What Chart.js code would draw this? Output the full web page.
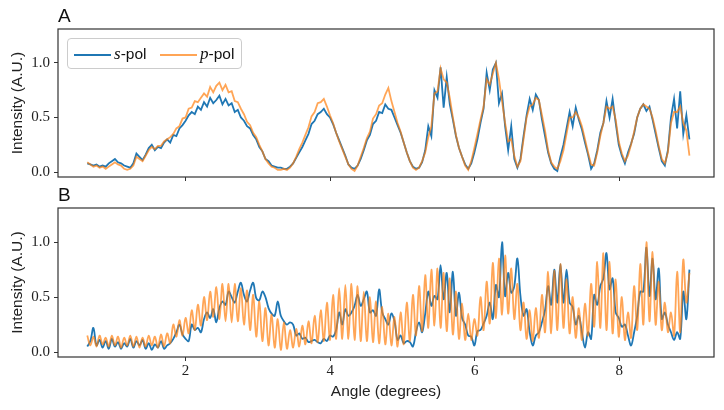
<!DOCTYPE html>
<html>
<head>
<meta charset="utf-8">
<script src="https://cdn.jsdelivr.net/npm/chart.js@4.4.1/dist/chart.umd.min.js"></script>
<style>
body { margin: 0; background: #fff; }
#wrap { position: relative; width: 724px; height: 410px; overflow: hidden; }
canvas { position: absolute; left: 0; }
.tag { position: absolute; left: 58px; font: 19px/19px "Liberation Sans", sans-serif; color: #111; }
#legend {
    position: absolute; left: 67px; top: 38px; width: 175px; height: 31px;
    box-sizing: border-box; border: 1px solid #cccccc; border-radius: 4px;
    background: rgba(255, 255, 255, 0.8);
}
#legend .key { position: absolute; top: 15px; width: 37px; height: 2px; }
#legend .lab { position: absolute; top: 5px; font: 15.5px/20px "Liberation Sans", sans-serif; color: #111; }
#legend .lab i { font-family: "Liberation Serif", serif; font-size: 17px; }
</style>
</head>
<body>
<div id="wrap">
    <canvas id="chartA" width="724" height="190" style="top:0px"></canvas>
    <canvas id="chartB" width="724" height="220" style="top:190px"></canvas>
    <div class="tag" style="top:6px">A</div>
    <div class="tag" style="top:185px">B</div>
    <div id="legend">
        <span class="key" style="left:6px;background:#1f77b4"></span>
        <span class="lab" style="left:46px"><i>s</i>-pol</span>
        <span class="key" style="left:92px;background:rgba(255,127,14,0.7)"></span>
        <span class="lab" style="left:132px"><i>p</i>-pol</span>
    </div>
</div>
<script>
// sampling grid of the measurement (degrees)
const angleStart = 0.64;
const angleStep = 0.0425;

const xTicks = [2, 4, 6, 8];
const yTicks = [0, 0.5, 1.0];

// panel A
const sPolA = [
    0.08, 0.07, 0.06, 0.07, 0.05, 0.06, 0.05, 0.08, 0.10, 0.12,
    0.09, 0.08, 0.06, 0.05, 0.04, 0.08, 0.17, 0.14, 0.11, 0.16,
    0.22, 0.25, 0.20, 0.23, 0.22, 0.27, 0.30, 0.27, 0.34, 0.33,
    0.40, 0.43, 0.47, 0.52, 0.55, 0.53, 0.60, 0.57, 0.64, 0.60,
    0.68, 0.63, 0.66, 0.70, 0.62, 0.67, 0.61, 0.63, 0.55, 0.57,
    0.50, 0.47, 0.42, 0.40, 0.34, 0.30, 0.23, 0.19, 0.12, 0.10,
    0.06, 0.05, 0.04, 0.04, 0.03, 0.03, 0.05, 0.08, 0.13, 0.18,
    0.23, 0.29, 0.35, 0.44, 0.47, 0.53, 0.55, 0.58, 0.53, 0.50,
    0.44, 0.36, 0.29, 0.22, 0.15, 0.07, 0.04, 0.03, 0.06, 0.12,
    0.20, 0.29, 0.34, 0.44, 0.47, 0.55, 0.54, 0.62, 0.58, 0.57,
    0.50, 0.43, 0.36, 0.27, 0.18, 0.10, 0.05, 0.03, 0.04, 0.09,
    0.20, 0.42, 0.33, 0.75, 0.68, 0.96, 0.59, 0.87, 0.62, 0.48,
    0.33, 0.22, 0.14, 0.07, 0.03, 0.08, 0.18, 0.30, 0.45, 0.58,
    0.91, 0.75, 0.94, 1.00, 0.63, 0.72, 0.42, 0.20, 0.42, 0.12,
    0.04, 0.12, 0.33, 0.52, 0.67, 0.57, 0.71, 0.66, 0.48, 0.33,
    0.18, 0.08, 0.03, 0.01, 0.14, 0.25, 0.40, 0.55, 0.42, 0.59,
    0.48, 0.39, 0.27, 0.16, 0.03, 0.08, 0.20, 0.36, 0.45, 0.65,
    0.50, 0.67, 0.45, 0.25, 0.15, 0.08, 0.18, 0.26, 0.35, 0.50,
    0.58, 0.62, 0.56, 0.60, 0.48, 0.35, 0.22, 0.10, 0.06, 0.20,
    0.50, 0.67, 0.40, 0.74, 0.35, 0.52, 0.30
];
const pPolA = [
    0.09, 0.07, 0.05, 0.06, 0.04, 0.05, 0.03, 0.05, 0.07, 0.09,
    0.07, 0.06, 0.03, 0.02, 0.03, 0.06, 0.14, 0.12, 0.10, 0.15,
    0.20, 0.23, 0.21, 0.24, 0.24, 0.28, 0.30, 0.32, 0.35, 0.40,
    0.42, 0.49, 0.50, 0.58, 0.59, 0.65, 0.64, 0.68, 0.72, 0.69,
    0.78, 0.73, 0.79, 0.82, 0.75, 0.80, 0.73, 0.74, 0.65, 0.64,
    0.58, 0.53, 0.46, 0.43, 0.36, 0.32, 0.25, 0.19, 0.12, 0.08,
    0.05, 0.04, 0.02, 0.02, 0.03, 0.02, 0.04, 0.08, 0.14, 0.21,
    0.27, 0.34, 0.41, 0.51, 0.55, 0.63, 0.64, 0.67, 0.60, 0.52,
    0.45, 0.36, 0.28, 0.21, 0.14, 0.07, 0.03, 0.01, 0.06, 0.14,
    0.22, 0.31, 0.37, 0.49, 0.53, 0.61, 0.63, 0.71, 0.77, 0.65,
    0.55, 0.45, 0.37, 0.27, 0.18, 0.10, 0.04, 0.02, 0.04, 0.10,
    0.18, 0.32, 0.42, 0.72, 0.74, 0.95, 0.85, 0.82, 0.68, 0.50,
    0.34, 0.22, 0.14, 0.06, 0.02, 0.10, 0.22, 0.35, 0.48, 0.60,
    0.85, 0.80, 0.90, 1.00, 0.85, 0.65, 0.45, 0.28, 0.30, 0.15,
    0.05, 0.10, 0.30, 0.50, 0.60, 0.62, 0.68, 0.66, 0.52, 0.38,
    0.20, 0.09, 0.05, 0.03, 0.10, 0.20, 0.35, 0.50, 0.50, 0.55,
    0.50, 0.42, 0.30, 0.18, 0.07, 0.06, 0.18, 0.33, 0.45, 0.60,
    0.58, 0.60, 0.48, 0.28, 0.17, 0.10, 0.15, 0.25, 0.37, 0.50,
    0.58, 0.62, 0.60, 0.58, 0.50, 0.38, 0.24, 0.12, 0.08, 0.18,
    0.45, 0.55, 0.55, 0.60, 0.45, 0.38, 0.15
];

// panel B
const sPolB = [
    0.05, 0.10, 0.22, 0.06, 0.11, 0.04, 0.10, 0.03, 0.12, 0.05,
    0.09, 0.03, 0.08, 0.05, 0.12, 0.04, 0.10, 0.06, 0.11, 0.03,
    0.08, 0.02, 0.07, 0.04, 0.10, 0.03, 0.06, 0.08, 0.12, 0.18,
    0.25, 0.16, 0.12, 0.10, 0.25, 0.20, 0.22, 0.18, 0.30, 0.36,
    0.31, 0.39, 0.27, 0.40, 0.46, 0.43, 0.55, 0.50, 0.45, 0.55,
    0.63, 0.52, 0.46, 0.56, 0.63, 0.49, 0.47, 0.55, 0.50, 0.40,
    0.35, 0.33, 0.46, 0.33, 0.28, 0.25, 0.27, 0.25, 0.15, 0.17,
    0.12, 0.13, 0.09, 0.10, 0.11, 0.09, 0.08, 0.12, 0.10, 0.15,
    0.14, 0.20, 0.36, 0.25, 0.39, 0.33, 0.36, 0.42, 0.52, 0.42,
    0.48, 0.55, 0.36, 0.38, 0.33, 0.57, 0.36, 0.30, 0.25, 0.35,
    0.28, 0.11, 0.15, 0.08, 0.10, 0.09, 0.05, 0.18, 0.27, 0.18,
    0.35, 0.55, 0.42, 0.51, 0.48, 0.79, 0.48, 0.72, 0.36, 0.73,
    0.33, 0.54, 0.31, 0.25, 0.15, 0.14, 0.06, 0.19, 0.20, 0.26,
    0.33, 0.45, 0.30, 0.61, 0.50, 1.00, 0.51, 0.72, 0.54, 0.60,
    0.85, 0.51, 0.33, 0.39, 0.18, 0.06, 0.15, 0.18, 0.27, 0.38,
    0.60, 0.43, 0.75, 0.45, 0.80, 0.45, 0.75, 0.45, 0.41, 0.25,
    0.33, 0.18, 0.04, 0.18, 0.12, 0.52, 0.43, 0.60, 0.67, 0.90,
    0.57, 0.67, 0.36, 0.31, 0.23, 0.25, 0.15, 0.06, 0.18, 0.33,
    0.55, 0.55, 0.95, 0.51, 0.85, 0.48, 0.76, 0.30, 0.36, 0.25,
    0.18, 0.11, 0.18, 0.12, 0.55, 0.30, 0.75
];
const pPolB = [
    0.15, 0.06, 0.14, 0.05, 0.15, 0.07, 0.13, 0.05, 0.15, 0.06,
    0.14, 0.04, 0.13, 0.06, 0.15, 0.05, 0.14, 0.04, 0.13, 0.05,
    0.15, 0.06, 0.14, 0.04, 0.16, 0.05, 0.17, 0.08, 0.25, 0.14,
    0.29, 0.15, 0.31, 0.17, 0.38, 0.20, 0.43, 0.24, 0.50, 0.29,
    0.55, 0.32, 0.59, 0.30, 0.62, 0.28, 0.62, 0.27, 0.62, 0.28,
    0.58, 0.25, 0.56, 0.20, 0.52, 0.14, 0.46, 0.10, 0.40, 0.06,
    0.34, 0.04, 0.30, 0.02, 0.27, 0.03, 0.20, 0.04, 0.21, 0.05,
    0.24, 0.07, 0.28, 0.08, 0.33, 0.09, 0.38, 0.10, 0.45, 0.11,
    0.52, 0.12, 0.58, 0.12, 0.61, 0.12, 0.62, 0.11, 0.60, 0.10,
    0.55, 0.10, 0.50, 0.09, 0.46, 0.08, 0.41, 0.07, 0.35, 0.06,
    0.32, 0.05, 0.36, 0.07, 0.45, 0.10, 0.52, 0.15, 0.60, 0.19,
    0.70, 0.22, 0.75, 0.24, 0.76, 0.22, 0.72, 0.19, 0.67, 0.16,
    0.55, 0.12, 0.44, 0.11, 0.35, 0.11, 0.30, 0.15, 0.50, 0.20,
    0.64, 0.26, 0.81, 0.31, 0.85, 0.34, 0.88, 0.35, 0.76, 0.30,
    0.62, 0.20, 0.45, 0.12, 0.38, 0.10, 0.40, 0.13, 0.52, 0.18,
    0.73, 0.17, 0.74, 0.20, 0.80, 0.22, 0.66, 0.17, 0.50, 0.13,
    0.40, 0.11, 0.44, 0.15, 0.62, 0.23, 0.82, 0.22, 0.90, 0.20,
    0.82, 0.17, 0.66, 0.14, 0.50, 0.11, 0.36, 0.13, 0.60, 0.20,
    0.80, 0.25, 1.00, 0.28, 0.91, 0.25, 0.64, 0.20, 0.45, 0.18,
    0.36, 0.15, 0.73, 0.18, 0.84, 0.45, 0.72
];

const xMin = 0.235, xMax = 9.31;
const yMin = -0.045, yMax = 1.31;

function toPoints(values) {
    return values.map((v, i) => ({ x: angleStart + i * angleStep, y: v }));
}

// full box round the plot area, like the matplotlib frame
const framePlugin = {
    id: 'frame',
    afterDraw(chart) {
        const a = chart.chartArea;
        const ctx = chart.ctx;
        ctx.save();
        ctx.strokeStyle = '#333';
        ctx.lineWidth = 1.2;
        ctx.strokeRect(a.left, a.top, a.right - a.left, a.bottom - a.top);
        ctx.restore();
    }
};

function makePanel(canvasId, sValues, pValues, topPad, xAxisHeight, showXLabels, tension) {
    const tickFont = { family: 'Liberation Serif', size: 15 };
    const titleFont = { family: 'Liberation Sans', size: 15.5 };
    return new Chart(document.getElementById(canvasId), {
        type: 'line',
        data: {
            datasets: [
                { data: toPoints(sValues), borderColor: '#1f77b4', borderWidth: 1.8, tension: tension, order: 2 },
                { data: toPoints(pValues), borderColor: 'rgba(255,127,14,0.7)', borderWidth: 1.8, tension: tension, order: 1 }
            ]
        },
        options: {
            responsive: false,
            animation: false,
            devicePixelRatio: 1,
            layout: { padding: { top: topPad, right: 10, left: 0, bottom: 0 } },
            elements: { point: { radius: 0 } },
            plugins: { legend: { display: false }, tooltip: { enabled: false } },
            scales: {
                x: {
                    type: 'linear',
                    min: xMin,
                    max: xMax,
                    afterBuildTicks: s => { s.ticks = xTicks.map(v => ({ value: v })); },
                    afterFit: s => { s.height = xAxisHeight; },
                    border: { display: false },
                    grid: { drawOnChartArea: false, drawTicks: true, tickLength: 4, color: '#333' },
                    ticks: { display: showXLabels, padding: 1, color: '#222', font: tickFont, callback: v => String(v) },
                    title: { display: showXLabels, text: 'Angle (degrees)', color: '#222', font: titleFont, padding: { top: 0, bottom: 9 } }
                },
                y: {
                    min: yMin,
                    max: yMax,
                    afterBuildTicks: s => { s.ticks = yTicks.map(v => ({ value: v })); },
                    afterFit: s => { s.width = 58; },
                    border: { display: false },
                    grid: { drawOnChartArea: false, drawTicks: true, tickLength: 4, color: '#333' },
                    ticks: { padding: 4, color: '#222', font: tickFont, callback: v => v.toFixed(1) },
                    title: { display: true, text: 'Intensity (A.U.)', color: '#222', font: titleFont, padding: { top: 8, bottom: 0 } }
                }
            }
        },
        plugins: [framePlugin]
    });
}

makePanel('chartA', sPolA, pPolA, 29, 12, false, 0);
makePanel('chartB', sPolB, pPolB, 18, 53, true, 0.35);
</script>
</body>
</html>
